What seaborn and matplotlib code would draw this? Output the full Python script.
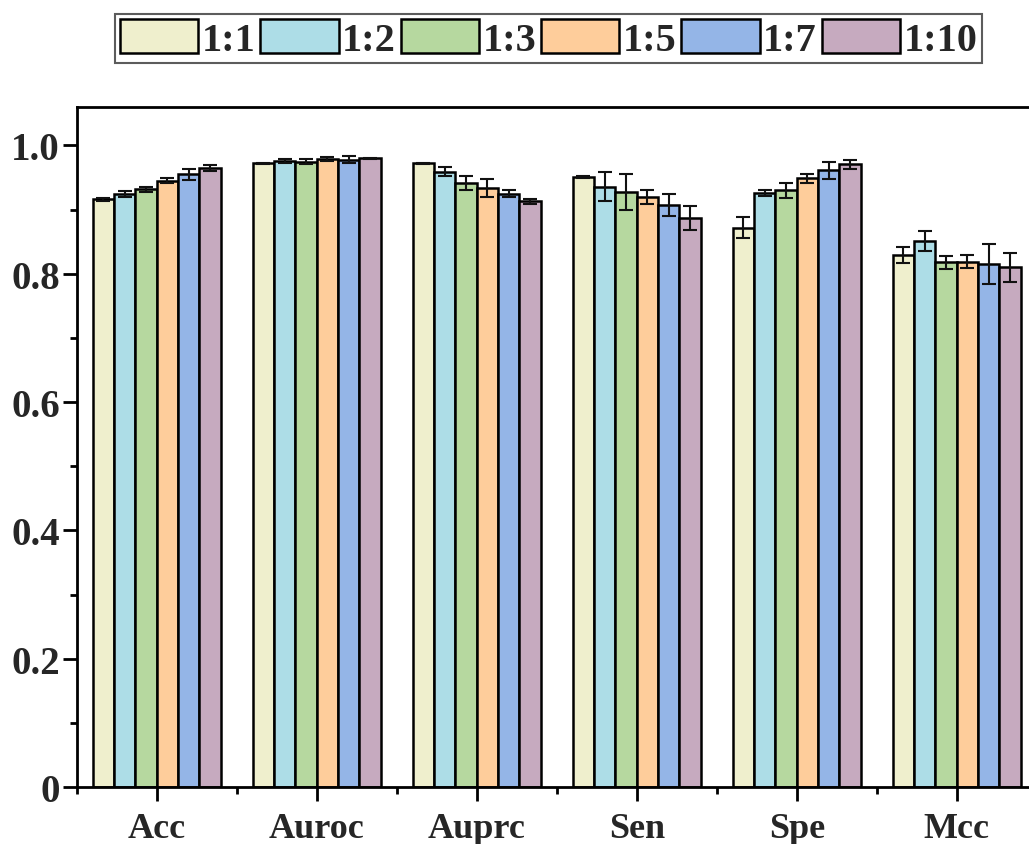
import numpy as np
import pandas as pd
import seaborn as sns
import matplotlib.pyplot as plt
from matplotlib.ticker import FixedLocator, FixedFormatter, MultipleLocator

# ---- data -------------------------------------------------------------
metrics = ["Acc", "Auroc", "Auprc", "Sen", "Spe", "Mcc"]
ratios = ["1:1", "1:2", "1:3", "1:5", "1:7", "1:10"]

mean_1_1 = [0.916, 0.972, 0.972, 0.951, 0.872, 0.829]
mean_1_2 = [0.924, 0.976, 0.959, 0.936, 0.926, 0.851]
mean_1_3 = [0.932, 0.975, 0.941, 0.927, 0.930, 0.818]
mean_1_5 = [0.945, 0.979, 0.934, 0.919, 0.949, 0.819]
mean_1_7 = [0.955, 0.978, 0.925, 0.907, 0.961, 0.815]
mean_1_10 = [0.965, 0.980, 0.913, 0.887, 0.971, 0.810]

std_1_1 = [0.002, 0.001, 0.001, 0.001, 0.017, 0.012]
std_1_2 = [0.005, 0.003, 0.007, 0.023, 0.004, 0.015]
std_1_3 = [0.004, 0.004, 0.011, 0.028, 0.012, 0.010]
std_1_5 = [0.004, 0.003, 0.014, 0.011, 0.007, 0.010]
std_1_7 = [0.009, 0.005, 0.005, 0.017, 0.013, 0.031]
std_1_10 = [0.005, 0.001, 0.004, 0.018, 0.007, 0.023]

y_ticks = [0.0, 0.2, 0.4, 0.6, 0.8, 1.0]
y_tick_labels = ["0", "0.2", "0.4", "0.6", "0.8", "1.0"]

colors = ["#EFEFCD", "#ADDDE7", "#B6D89F", "#FECD9B", "#94B5E7", "#C6AABF"]

means = [mean_1_1, mean_1_2, mean_1_3, mean_1_5, mean_1_7, mean_1_10]
stds = [std_1_1, std_1_2, std_1_3, std_1_5, std_1_7, std_1_10]

df = pd.DataFrame(
    [(m, r, v) for r, vals in zip(ratios, means) for m, v in zip(metrics, vals)],
    columns=["metric", "ratio", "value"],
)

# ---- style ------------------------------------------------------------
sns.set_theme(style="ticks")
plt.rcParams["font.family"] = ["Liberation Serif", "DejaVu Serif"]
plt.rcParams["font.weight"] = "bold"

fig = plt.figure(figsize=(10.29, 8.45), dpi=100)
ax = fig.add_axes([0.0745, 0.0675, 0.933, 0.8047])

sns.barplot(
    data=df, x="metric", y="value", hue="ratio",
    order=metrics, hue_order=ratios, palette=colors,
    width=0.8, saturation=1, errorbar=None,
    edgecolor="black", linewidth=1.8, ax=ax,
)

# error bars on top of each bar
for container, err in zip(ax.containers, stds):
    xs = [b.get_x() + b.get_width() / 2 for b in container]
    ys = [b.get_height() for b in container]
    ax.errorbar(xs, ys, yerr=err, fmt="none", ecolor="#111111",
                elinewidth=1.5, capsize=5, capthick=1.5, zorder=5)

# ---- axes -------------------------------------------------------------
ax.set_xlim(-0.5, len(metrics) - 0.5)
ax.set_ylim(0, 1.06)
ax.yaxis.set_major_locator(FixedLocator(y_ticks))
ax.yaxis.set_major_formatter(FixedFormatter(y_tick_labels))
ax.yaxis.set_minor_locator(MultipleLocator(0.1))
ax.xaxis.set_minor_locator(FixedLocator(np.arange(-0.5, len(metrics), 1.0)))
ax.set_xlabel("")
ax.set_ylabel("")

ax.tick_params(axis="both", which="major", direction="out", length=10,
               width=2, color="black")
ax.tick_params(axis="both", which="minor", direction="out", length=5,
               width=2, color="black")
ax.tick_params(axis="y", which="major", labelsize=28, pad=2)
ax.tick_params(axis="x", which="major", labelsize=26, pad=8)
for lab in ax.get_xticklabels() + ax.get_yticklabels():
    lab.set_fontweight("bold")

for side in ["left", "bottom", "top", "right"]:
    ax.spines[side].set_visible(True)
    ax.spines[side].set_linewidth(2)
    ax.spines[side].set_color("black")

# ---- legend -----------------------------------------------------------
handles, labels = ax.get_legend_handles_labels()
if ax.get_legend() is not None:
    ax.get_legend().remove()
leg = fig.legend(
    handles, labels, loc="center", bbox_to_anchor=(0.533, 0.953),
    ncol=6, frameon=True, fancybox=False, edgecolor="#333333",
    prop={"family": "Liberation Serif", "weight": "bold", "size": 29},
    handlelength=1.95, handleheight=0.92, handletextpad=0.08,
    columnspacing=0.12, borderpad=0.12, borderaxespad=0,
)
leg.get_frame().set_linewidth(1.5)
for h in leg.legend_handles:
    h.set_edgecolor("black")
    h.set_linewidth(1.8)

fig.savefig("out.png", dpi=100)
